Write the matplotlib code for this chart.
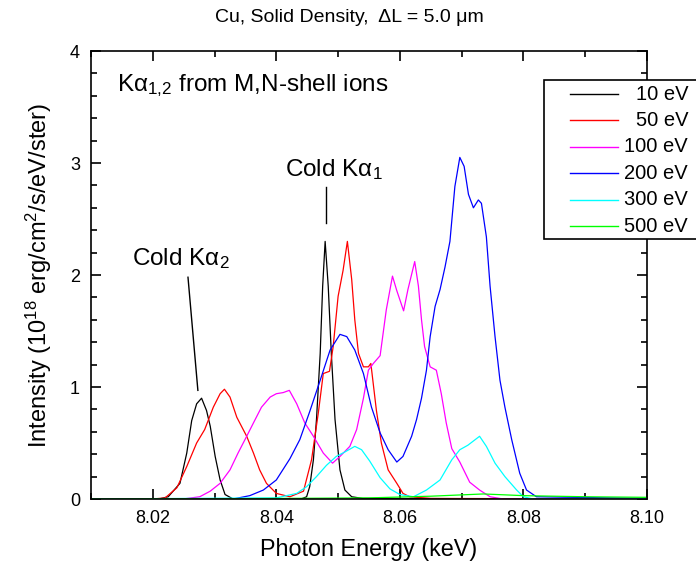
import matplotlib
matplotlib.use("Agg")
import matplotlib.pyplot as plt
from matplotlib.lines import Line2D
from matplotlib.patches import Rectangle
from matplotlib.ticker import MultipleLocator, FormatStrFormatter

plt.rcParams["font.family"] = ["Liberation Sans", "DejaVu Sans"]
plt.rcParams["mathtext.fontset"] = "custom"
plt.rcParams["mathtext.rm"] = "Liberation Sans"
plt.rcParams["mathtext.it"] = "Liberation Sans"

# ---------------------------------------------------------------------------
# Spectra (photon energy in keV, intensity)
# ---------------------------------------------------------------------------
x_10 = [8.010, 8.021, 8.0225, 8.0244, 8.0255, 8.0263, 8.0271, 8.0279, 8.0287,
        8.0293, 8.0301, 8.0309, 8.0317, 8.033, 8.044, 8.0449, 8.0454, 8.046,
        8.0465, 8.0471, 8.0475, 8.0479, 8.0484, 8.0489, 8.0495, 8.0503,
        8.0511, 8.0522, 8.054, 8.100]
y_10 = [0.0, 0.0, 0.02, 0.14, 0.41, 0.70, 0.85, 0.90, 0.79,
        0.65, 0.38, 0.17, 0.04, 0.0, 0.0, 0.02, 0.11, 0.35,
        0.71, 1.30, 1.90, 2.30, 1.90, 1.30, 0.71, 0.26,
        0.08, 0.02, 0.005, 0.0]

x_50 = [8.010, 8.020, 8.022, 8.0239, 8.0255, 8.0271, 8.0284, 8.0298, 8.0309,
        8.0316, 8.0325, 8.0336, 8.0352, 8.0363, 8.0373, 8.0384, 8.040, 8.0422,
        8.0444, 8.0457, 8.0468, 8.0476, 8.0486, 8.0492, 8.050, 8.0508, 8.0515,
        8.0522, 8.0527, 8.0533, 8.0541, 8.0549, 8.0553, 8.0562, 8.057, 8.0581,
        8.0595, 8.0605, 8.0616, 8.065, 8.100]
y_50 = [0.0, 0.0, 0.01, 0.10, 0.29, 0.50, 0.62, 0.82, 0.94,
        0.98, 0.91, 0.73, 0.56, 0.41, 0.26, 0.14, 0.05, 0.02,
        0.07, 0.35, 0.77, 1.12, 1.14, 1.36, 1.81, 2.04, 2.30,
        1.96, 1.60, 1.30, 1.18, 1.18, 1.21, 0.79, 0.50, 0.26,
        0.14, 0.05, 0.02, 0.005, 0.0]

x_100 = [8.010, 8.0249, 8.0276, 8.0293, 8.0309, 8.0325, 8.0338, 8.0352, 8.0363,
         8.0376, 8.039, 8.040, 8.0411, 8.0421, 8.0433, 8.0446, 8.046, 8.0476,
         8.0491, 8.0503, 8.0519, 8.053, 8.0541, 8.0549, 8.0557, 8.0568, 8.0578,
         8.0588, 8.0595, 8.0606, 8.0613, 8.0624, 8.063, 8.0635, 8.064, 8.0649,
         8.0659, 8.0667, 8.0675, 8.0684, 8.0697, 8.0713, 8.0729, 8.0746,
         8.0767, 8.100]
y_100 = [0.0, 0.0, 0.02, 0.07, 0.14, 0.26, 0.41, 0.56, 0.68,
         0.82, 0.91, 0.94, 0.95, 0.97, 0.85, 0.68, 0.56, 0.41,
         0.32, 0.38, 0.47, 0.62, 0.90, 1.15, 1.21, 1.28, 1.69,
         1.99, 1.86, 1.68, 1.87, 2.12, 1.90, 1.60, 1.36, 1.18,
         1.15, 0.94, 0.68, 0.45, 0.33, 0.15, 0.08, 0.02,
         0.0, 0.0]

x_200 = [8.010, 8.033, 8.0357, 8.0379, 8.040, 8.0422, 8.0438, 8.0454, 8.0471,
         8.0487, 8.0503, 8.0514, 8.0527, 8.0541, 8.0554, 8.0568, 8.0581, 8.0595,
         8.0605, 8.0619, 8.0627, 8.0635, 8.0643, 8.0649, 8.0657, 8.0665, 8.0673,
         8.0681, 8.0689, 8.0697, 8.0704, 8.0711, 8.0719, 8.0727, 8.0732, 8.074,
         8.0746, 8.0754, 8.0762, 8.077, 8.0781, 8.0794, 8.0805, 8.0821, 8.100]
y_200 = [0.0, 0.0, 0.03, 0.08, 0.17, 0.36, 0.53, 0.78, 1.06,
         1.33, 1.47, 1.45, 1.33, 1.12, 0.82, 0.59, 0.44, 0.33,
         0.38, 0.56, 0.71, 0.90, 1.15, 1.45, 1.72, 1.87, 2.07,
         2.30, 2.79, 3.05, 2.97, 2.72, 2.60, 2.67, 2.64, 2.34,
         1.90, 1.45, 1.06, 0.82, 0.53, 0.23, 0.08, 0.02, 0.005]

x_300 = [8.010, 8.040, 8.0433, 8.0449, 8.0465, 8.0481, 8.0497, 8.0511, 8.0527,
         8.0538, 8.0551, 8.0568, 8.0584, 8.060, 8.0622, 8.0643, 8.0665, 8.0684,
         8.0697, 8.071, 8.0729, 8.074, 8.0754, 8.077, 8.0789, 8.080, 8.0816,
         8.100]
y_300 = [0.0, 0.01, 0.05, 0.11, 0.20, 0.30, 0.38, 0.42, 0.47,
         0.44, 0.34, 0.19, 0.09, 0.04, 0.02, 0.08, 0.17, 0.35,
         0.44, 0.48, 0.56, 0.47, 0.32, 0.20, 0.08, 0.02, 0.0,
         0.0]

x_500 = [8.010, 8.030, 8.040, 8.055, 8.065, 8.0735, 8.080, 8.090, 8.100]
y_500 = [0.0, 0.002, 0.005, 0.01, 0.025, 0.045, 0.03, 0.02, 0.015]

labels = ["10 eV", "50 eV", "100 eV", "200 eV", "300 eV", "500 eV"]
colors = ["black", "#ff0000", "#ff00ff", "#0000ff", "#00ffff", "#00ff00"]
series = [(x_10, y_10), (x_50, y_50), (x_100, y_100),
          (x_200, y_200), (x_300, y_300), (x_500, y_500)]

# ---------------------------------------------------------------------------
# Figure
# ---------------------------------------------------------------------------
fig = plt.figure(figsize=(6.96, 5.69), dpi=100)
ax = fig.add_axes([91 / 696, 70 / 569, 556 / 696, 448 / 569])

for (xs, ys), c in zip(series, colors):
    ax.plot(xs, ys, color=c, lw=0.9)

ax.set_xlim(8.01, 8.10)
ax.set_ylim(0, 4)
ax.xaxis.set_major_locator(MultipleLocator(0.02))
ax.xaxis.set_minor_locator(MultipleLocator(0.01))
ax.xaxis.set_major_formatter(FormatStrFormatter("%.2f"))
ax.yaxis.set_major_locator(MultipleLocator(1))
ax.yaxis.set_minor_locator(MultipleLocator(0.2))
ax.tick_params(which="both", direction="in", top=True, right=True,
               labelsize=13, width=1.2)
ax.tick_params(which="major", length=7, pad=8)
ax.tick_params(which="minor", length=4)
for sp in ax.spines.values():
    sp.set_linewidth(1.2)

ax.set_xlabel("Photon Energy (keV)", fontsize=16.8, labelpad=8)
ax.set_ylabel("Intensity (10$^{18}$ erg/cm$^{2}$/s/eV/ster)", fontsize=17, labelpad=11)
fig.text(349 / 696, 1 - 18 / 569, "Cu, Solid Density,  \u0394L = 5.0 \u03bcm",
         fontsize=14, ha="center", va="center")

# annotations
ax.text(0.047, 0.911, "K\u03b1$_{1{,}2}$ from M,N-shell ions", transform=ax.transAxes,
        fontsize=17.5, va="baseline", ha="left")
ax.text(8.0414, 2.88, "Cold K\u03b1$_{1}$", fontsize=17.5, va="baseline", ha="left")
ax.plot([8.048, 8.048], [2.79, 2.46], color="black", lw=1.0)
ax.text(8.0166, 2.09, "Cold K\u03b1$_{2}$", fontsize=17.5, va="baseline", ha="left")
ax.plot([8.0257, 8.0273], [1.98, 0.97], color="black", lw=1.0)

# legend box, partly running off the right edge as in the original
box = Rectangle((544 / 696, 330 / 569), 0.3, 159 / 569, transform=fig.transFigure,
                facecolor="white", edgecolor="black", lw=1.2, zorder=5)
fig.patches.append(box)
for i, (lab, c) in enumerate(zip(labels, colors)):
    yy = (569 - (94 + 26.4 * i)) / 569
    fig.lines.append(Line2D([570 / 696, 618 / 696], [yy, yy], transform=fig.transFigure,
                            color=c, lw=1.0, zorder=6))
    fig.text(688 / 696, yy, lab, fontsize=14.5, ha="right", va="center", zorder=6)

fig.savefig("out.png", dpi=100)
